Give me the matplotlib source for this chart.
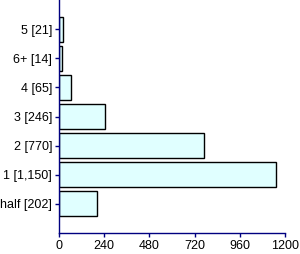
import matplotlib
matplotlib.use("Agg")
import matplotlib.pyplot as plt

categories = ["5", "6+", "4", "3", "2", "1", "half"]
counts = [21, 14, 65, 246, 770, 1150, 202]
tick_labels = ["5 [21]", "6+ [14]", "4 [65]", "3 [246]", "2 [770]", "1 [1,150]", "half [202]"]
x_ticks = [0, 240, 480, 720, 960, 1200]

NAVY = "#000080"

plt.rcParams.update({"font.family": ["Liberation Sans", "DejaVu Sans"]})

fig = plt.figure(figsize=(3.0, 2.54), dpi=100, facecolor="white")
ax = fig.add_axes([59 / 300, 21 / 254, 226 / 300, 233 / 254])

positions = list(range(1, len(categories) + 1))
ax.barh(positions, counts, height=0.86, color="#e0ffff", edgecolor="black", linewidth=1)

ax.set_ylim(8, 0)
ax.set_xlim(0, 1200)
ax.set_yticks(positions)
ax.set_yticklabels(tick_labels)
ax.set_xticks(x_ticks)
ax.set_xticklabels([str(t) for t in x_ticks])

ax.tick_params(axis="both", labelsize=9, colors=NAVY, labelcolor="black", length=3, width=1, pad=2)
ax.spines[["top", "right"]].set_visible(False)
ax.spines[["left", "bottom"]].set_color(NAVY)
ax.spines[["left", "bottom"]].set_linewidth(1)

fig.savefig("out.png", dpi=100, facecolor="white")
